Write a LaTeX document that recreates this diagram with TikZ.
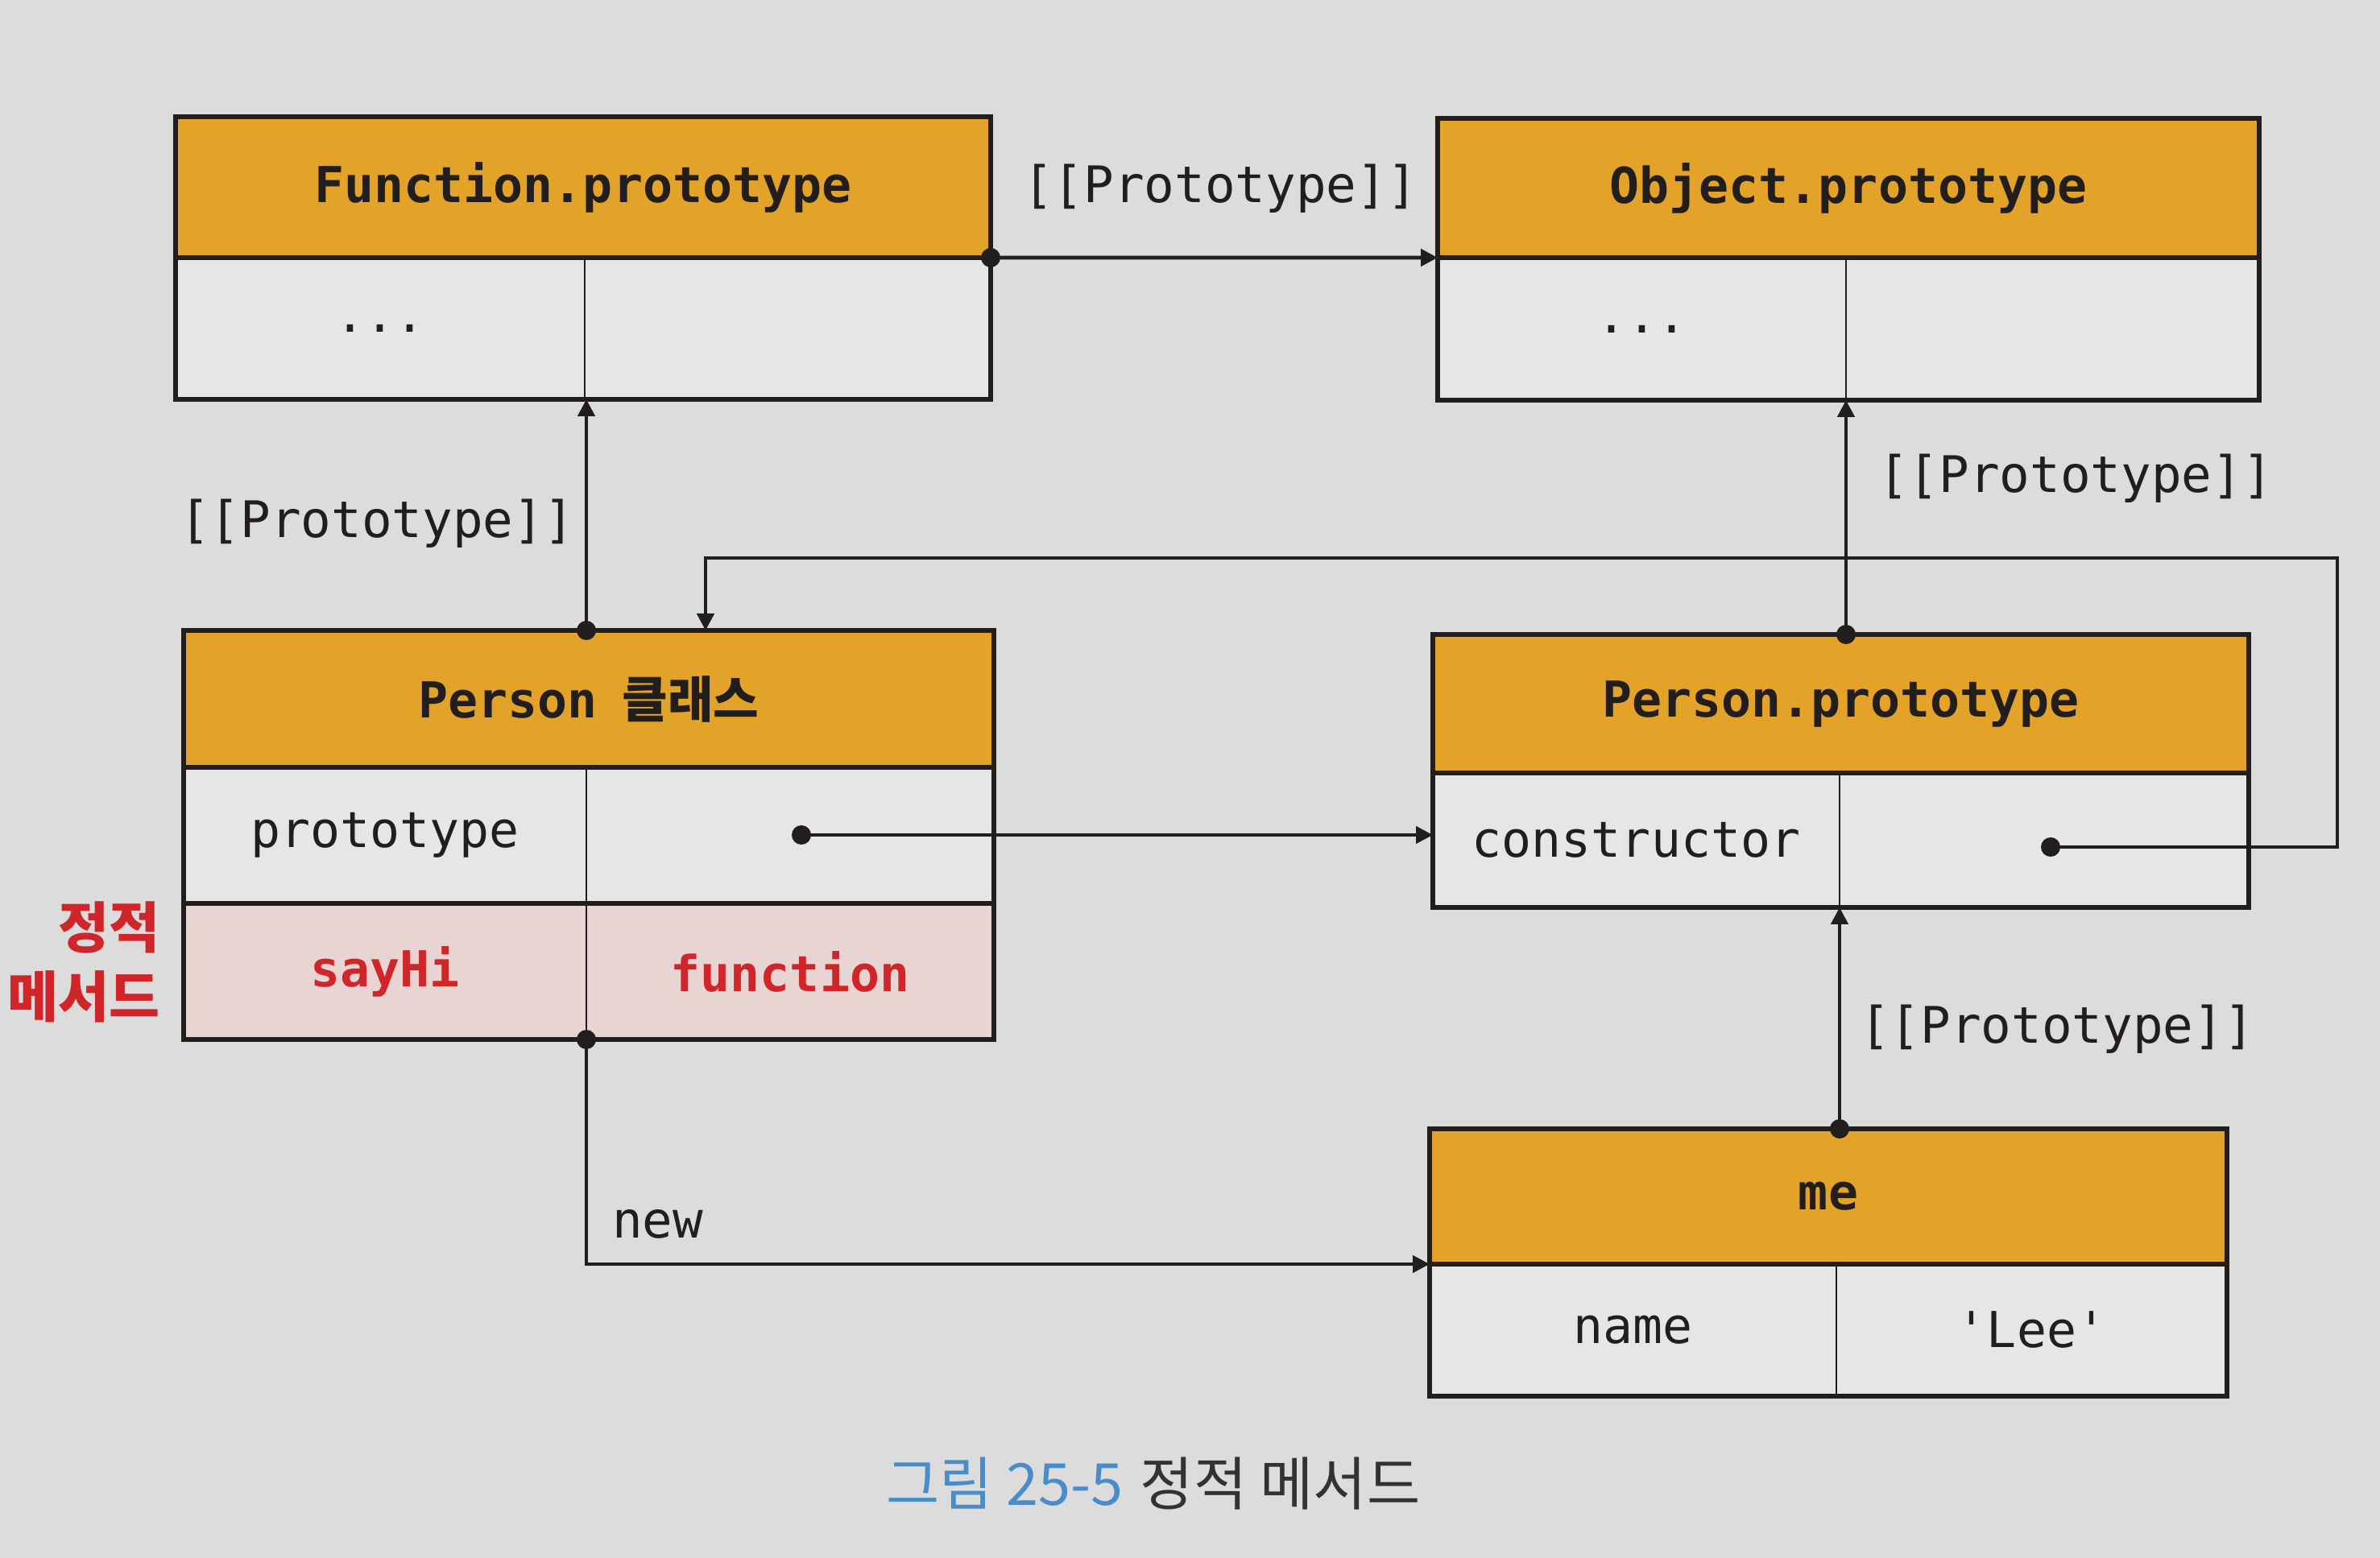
\documentclass[tikz,border=0pt]{standalone}
\usepackage{fontspec}
\setmonofont{DejaVu Sans Mono}
\newfontfamily\kr{Noto Sans CJK KR}
\usetikzlibrary{arrows.meta,calc}
\definecolor{bg}{HTML}{DCDCDC}
\definecolor{cell}{HTML}{E6E6E6}
\definecolor{gold}{HTML}{E2A328}
\definecolor{pinkcell}{HTML}{E9D4D4}
\definecolor{ink}{HTML}{231E1E}
\definecolor{redtxt}{HTML}{D0262A}
\definecolor{capblue}{HTML}{4A8CC8}
\definecolor{capgray}{HTML}{333333}
\begin{document}
\begin{tikzpicture}[
  every node/.style={inner sep=0pt, outer sep=0pt},
  hdr/.style={draw=ink, line width=0.8pt, fill=gold, font=\fontsize{17.5}{20}\selectfont\ttfamily\bfseries, text=ink},
  cellbox/.style={draw=ink, line width=0.8pt, fill=cell, font=\fontsize{17.5}{20}\selectfont\ttfamily, text=ink},
  redcell/.style={cellbox, fill=pinkcell, text=redtxt, font=\fontsize{17.5}{20}\selectfont\ttfamily\bfseries},
  outer/.style={draw=ink, line width=1.6pt},
  conn/.style={draw=ink, line width=1.3pt},
  arr/.style={conn, -{Triangle[length=0.21cm,width=0.21cm]}},
  lbl/.style={font=\fontsize{17.8}{20}\selectfont\ttfamily, text=ink},
  dot/.style={fill=ink}
]
\fill[bg] (0,0) rectangle (29.55,-19.35);
\useasboundingbox (0,0) rectangle (29.55,-19.35);

% Function.prototype
\node[hdr, minimum width=10.12cm, minimum height=1.75cm] (fph) at (7.24,-2.325) {Function.prototype};
\node[cellbox, minimum width=5.08cm, minimum height=1.76cm] (fpl) at (4.72,-4.08) {...};
\node[cellbox, minimum width=5.04cm, minimum height=1.76cm] (fpr) at (9.78,-4.08) {};
\draw[outer] (fph.north west) rectangle (fpr.south east);
\draw[outer] (fph.south west) -- (fph.south east);

% Object.prototype
\node[hdr, minimum width=10.20cm, minimum height=1.73cm] (oph) at (22.95,-2.335) {Object.prototype};
\node[cellbox, minimum width=5.07cm, minimum height=1.77cm] (opl) at (20.385,-4.085) {...};
\node[cellbox, minimum width=5.13cm, minimum height=1.77cm] (opr) at (25.485,-4.085) {};
\draw[outer] (oph.north west) rectangle (opr.south east);
\draw[outer] (oph.south west) -- (oph.south east);

% Person class
\node[hdr, minimum width=10.06cm, minimum height=1.70cm] (pch) at (7.31,-8.68) {Person\hspace{0.5em}{\kr\bfseries 클래스}};
\node[cellbox, minimum width=5.00cm, minimum height=1.69cm] (pcl1) at (4.78,-10.375) {prototype};
\node[cellbox, minimum width=5.06cm, minimum height=1.69cm] (pcr1) at (9.81,-10.375) {};
\node[redcell, minimum width=5.00cm, minimum height=1.69cm] (pcl2) at (4.78,-12.065) {sayHi};
\node[redcell, minimum width=5.06cm, minimum height=1.69cm] (pcr2) at (9.81,-12.065) {function};
\draw[outer] (pch.north west) rectangle (pcr2.south east);
\draw[outer] (pch.south west) -- (pch.south east);
\draw[outer] (pcl2.north west) -- (pcr2.north east);

% Person.prototype
\node[hdr, minimum width=10.13cm, minimum height=1.72cm] (pph) at (22.855,-8.74) {Person.prototype};
\node[cellbox, minimum width=5.05cm, minimum height=1.67cm] (ppl) at (20.315,-10.435) {constructor};
\node[cellbox, minimum width=5.08cm, minimum height=1.67cm] (ppr) at (25.38,-10.435) {};
\draw[outer] (pph.north west) rectangle (ppr.south east);
\draw[outer] (pph.south west) -- (pph.south east);

% me
\node[hdr, minimum width=9.90cm, minimum height=1.68cm] (meh) at (22.70,-14.86) {me};
\node[cellbox, minimum width=5.05cm, minimum height=1.64cm] (mel) at (20.275,-16.52) {name};
\node[cellbox, minimum width=4.85cm, minimum height=1.64cm] (mer) at (25.225,-16.52) {'Lee'};
\draw[outer] (meh.north west) rectangle (mer.south east);
\draw[outer] (meh.south west) -- (meh.south east);

% coordinates for connector ends
\coordinate (pctop) at (pch.north -| pcl1.north east);
\coordinate (pptop) at (pph.north -| opl.south east);
\coordinate (metop) at (meh.north -| ppl.south east);
\coordinate (pcbot) at (pcr2.south west);
\coordinate (protodot) at (9.95,-10.37);
\coordinate (ctordot) at (25.46,-10.52);
\coordinate (loopR) at (29.02,-6.93);
\coordinate (loopT) at (8.76,-7.83);

% connectors
\draw[arr] (fph.south east) -- (oph.south west);
\draw[arr] (pctop) -- (pctop |- fpl.south east);
\draw[arr] (pptop) -- (opl.south east);
\draw[arr] (protodot) -- (protodot -| ppl.west);
\draw[arr] (ctordot) -| (loopR) -| (loopT);
\draw[arr] (pcbot) |- (meh.south west);
\draw[arr] (metop) -- (ppl.south east);

\fill[dot] (fph.south east) circle (0.12);
\fill[dot] (pctop) circle (0.12);
\fill[dot] (pptop) circle (0.12);
\fill[dot] (metop) circle (0.12);
\fill[dot] (pcbot) circle (0.12);
\fill[dot] (protodot) circle (0.12);
\fill[dot] (ctordot) circle (0.12);

% labels
\node[lbl] (l1) at (15.15,-2.34) {[[Prototype]]};
\node[lbl] (l2) at (4.68,-6.50) {[[Prototype]]};
\node[lbl] (l3) at (25.77,-5.94) {[[Prototype]]};
\node[lbl] (l4) at (25.54,-12.78) {[[Prototype]]};
\node[lbl, anchor=west] (lnew) at (7.60,-15.20) {new};

\node[anchor=east, align=right, font=\kr\bfseries\fontsize{19.5}{24.5}\selectfont, text=redtxt] (rl) at (1.99,-11.95) {정적\\메서드};

\node[font=\kr\fontsize{20.5}{23}\selectfont] (cap) at (14.32,-18.43) {\textcolor{capblue}{그림 25-5}\hspace{0.3em}\textcolor{capgray}{정적 메서드}};
\end{tikzpicture}
\end{document}
